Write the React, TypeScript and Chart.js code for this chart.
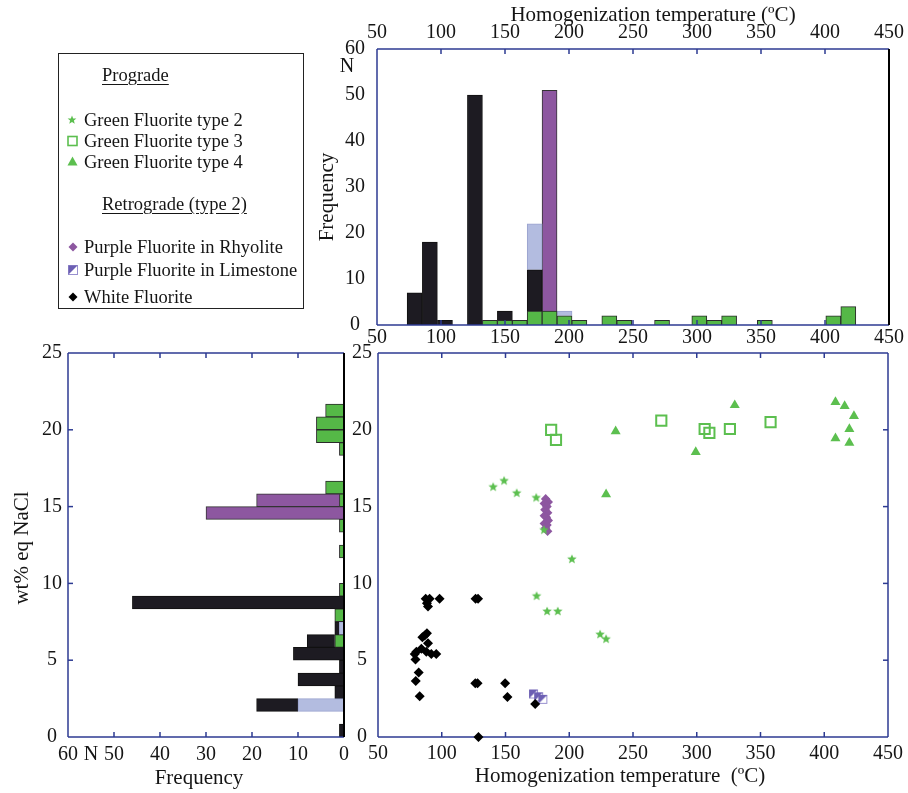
import React, { useEffect, useRef } from 'react';
import { Chart, registerables } from 'chart.js';
Chart.register(...registerables);

const FONT = "'Liberation Serif', 'Times New Roman', serif";

// ---------- Top histogram: homogenization temperature (bar centres, °C) ----------
const tempBins = [79.4, 91.3, 103.1, 126.5, 138.2, 149.9, 161.5, 173.2, 184.8, 196.5, 208.1, 231.5, 243.2, 272.7, 301.8, 313.4, 325.1, 353.0, 406.5, 418.2];
const tempGreen = [0, 0, 0, 0, 1, 1, 1, 3, 3, 2, 1, 2, 1, 1, 2, 1, 2, 1, 2, 4];
const tempWhite = [7, 18, 1, 50, 0, 2, 0, 9, 0, 0, 0, 0, 0, 0, 0, 0, 0, 0, 0, 0];
const tempLimestone = [0, 0, 0, 0, 0, 0, 0, 10, 0, 1, 0, 0, 0, 0, 0, 0, 0, 0, 0, 0];
const tempRhyolite = [0, 0, 0, 0, 0, 0, 0, 0, 48, 0, 0, 0, 0, 0, 0, 0, 0, 0, 0, 0];

// ---------- Left histogram: salinity (bin centres, wt% eq NaCl) ----------
const salBins = [0.42, 1.25, 2.08, 2.92, 3.75, 4.58, 5.42, 6.25, 7.08, 7.92, 8.75, 9.58, 10.42, 11.25, 12.08, 12.92, 13.75, 14.58, 15.42, 16.25, 17.08, 17.92, 18.75, 19.58, 20.42, 21.25];
const salGreen = [0, 0, 0, 0, 0, 0, 0, 2, 0, 2, 0, 1, 0, 0, 1, 0, 1, 0, 1, 4, 0, 0, 1, 6, 6, 4];
const salLimestone = [0, 0, 10, 0, 0, 0, 0, 0, 1, 0, 0, 0, 0, 0, 0, 0, 0, 0, 0, 0, 0, 0, 0, 0, 0, 0];
const salWhite = [1, 0, 9, 2, 10, 1, 11, 6, 1, 0, 46, 0, 0, 0, 0, 0, 0, 0, 0, 0, 0, 0, 0, 0, 0, 0];
const salRhyolite = [0, 0, 0, 0, 0, 0, 0, 0, 0, 0, 0, 0, 0, 0, 0, 0, 0, 30, 18, 0, 0, 0, 0, 0, 0, 0];

// ---------- Scatter: [temperature °C, salinity wt%] ----------
const greenType2 = [[140.3, 16.3], [148.9, 16.7], [158.8, 15.9], [174.1, 15.6], [180.1, 13.5], [202.1, 11.6], [174.4, 9.2], [182.6, 8.2], [191.0, 8.2], [224.2, 6.7], [228.9, 6.4]];
const greenType3 = [[185.8, 20.0], [189.6, 19.35], [272.2, 20.6], [306.2, 20.05], [309.9, 19.8], [326.0, 20.05], [357.9, 20.5]];
const greenType4 = [[236.4, 19.9], [228.9, 15.8], [329.8, 21.6], [299.2, 18.55], [408.8, 21.8], [416.0, 21.55], [423.3, 20.9], [419.7, 20.05], [408.8, 19.45], [419.7, 19.15]];
const purpleRhyolite = [[181.5, 15.5], [183.5, 15.3], [180.5, 15.2], [182.5, 15.0], [181.0, 14.8], [183.0, 14.6], [180.5, 14.4], [182.0, 14.3], [183.5, 14.1], [180.5, 13.9], [182.5, 13.8], [181.5, 13.6], [183.0, 13.4]];
const purpleLimestone = [[172.0, 2.8], [176.0, 2.62], [179.3, 2.45]];
const whiteFluorite = [[87.4, 9.0], [90.5, 9.0], [98.3, 9.0], [88.4, 8.7], [89.2, 8.5], [126.5, 9.0], [128.5, 9.0], [86.6, 6.6], [88.4, 6.75], [84.8, 6.5], [89.2, 6.1], [80.1, 5.55], [78.8, 5.4], [84.0, 5.75], [87.9, 5.55], [91.8, 5.4], [95.7, 5.4], [79.4, 5.05], [81.9, 4.2], [79.6, 3.65], [82.7, 2.65], [126.3, 3.5], [128.1, 3.5], [149.7, 3.5], [151.5, 2.6], [173.3, 2.15], [128.8, 0.0]];

const C = {
  axis: '#2d3a92',
  green: '#55b847',
  greenPt: '#5cbf4f',
  purple: '#8d57a0',
  light: '#b3bce0',
  black: '#1d1b22',
  lime: '#6c5fb3',
  text: '#151515',
};

const tickFont = { family: FONT, size: 20 };

function makeFrame(cfg: any) {
  const hook = cfg.before ? 'beforeDatasetsDraw' : 'afterDatasetsDraw';
  return {
    id: 'frame',
    [hook](chart: any) {
      const { ctx, chartArea: a } = chart;
      ctx.save();
      ctx.lineWidth = 1.5;
      const line = (x1: number, y1: number, x2: number, y2: number, c: string) => {
        ctx.strokeStyle = c;
        ctx.beginPath();
        ctx.moveTo(x1, y1);
        ctx.lineTo(x2, y2);
        ctx.stroke();
      };
      const L = 5;
      for (const t of cfg.ticks) {
        const sc = chart.scales[t.scale];
        for (const tk of sc.ticks) {
          if (tk.value <= sc.min || tk.value >= sc.max) continue;
          const p = sc.getPixelForValue(tk.value);
          if (t.edge === 'top') line(p, a.top, p, a.top + L, C.axis);
          if (t.edge === 'bottom') line(p, a.bottom, p, a.bottom - L, C.axis);
          if (t.edge === 'left') line(a.left, p, a.left + L, p, C.axis);
          if (t.edge === 'right') line(a.right, p, a.right - L, p, C.axis);
        }
      }
      line(a.left, a.top, a.right, a.top, cfg.top);
      line(a.left, a.bottom, a.right, a.bottom, cfg.bottom);
      line(a.left, a.top, a.left, a.bottom, cfg.left);
      ctx.lineWidth = cfg.rightWidth || 1.5;
      line(a.right, a.top, a.right, a.bottom, cfg.right);
      ctx.restore();
    },
  };
}

function makeTexts(items: any[]) {
  return {
    id: 'texts',
    afterDraw(chart: any) {
      const ctx = chart.ctx;
      for (const t of items) {
        ctx.save();
        ctx.font = `${t.size || 21}px ${FONT}`;
        ctx.fillStyle = C.text;
        ctx.textAlign = t.align || 'center';
        ctx.textBaseline = 'middle';
        ctx.translate(t.x, t.y);
        if (t.rot) ctx.rotate(t.rot);
        ctx.fillText(t.text, 0, 0);
        ctx.restore();
      }
    },
  };
}

function makeStarImg(color: string) {
  const c = document.createElement('canvas');
  c.width = 12;
  c.height = 12;
  const g = c.getContext('2d')!;
  g.fillStyle = color;
  g.beginPath();
  for (let i = 0; i < 10; i++) {
    const r = i % 2 ? 2.2 : 5.0;
    const a = -Math.PI / 2 + (i * Math.PI) / 5;
    const x = 6 + r * Math.cos(a);
    const y = 6.4 + r * Math.sin(a);
    if (i === 0) g.moveTo(x, y);
    else g.lineTo(x, y);
  }
  g.closePath();
  g.fill();
  return c;
}

function makeHalfSquareImg() {
  const c = document.createElement('canvas');
  c.width = 11;
  c.height = 11;
  const g = c.getContext('2d')!;
  g.fillStyle = '#fff';
  g.fillRect(1, 1, 9, 9);
  g.strokeStyle = '#9890cf';
  g.lineWidth = 1;
  g.strokeRect(1.5, 1.5, 8, 8);
  g.fillStyle = C.lime;
  g.beginPath();
  g.moveTo(1, 1);
  g.lineTo(10, 1);
  g.lineTo(1, 10);
  g.closePath();
  g.fill();
  return c;
}

function baseScale(extra: any) {
  return {
    type: 'linear',
    offset: false,
    grid: { display: false, drawTicks: false },
    border: { display: false },
    ...extra,
    ticks: { font: tickFont, color: C.text, autoSkip: false, maxRotation: 0, ...(extra.ticks || {}) },
  };
}

function barDs(label: string, xs: number[], ys: number[], bg: string, border: string, thickness: number, horizontal: boolean) {
  const data = xs
    .map((v, i) => (horizontal ? { x: ys[i], y: v } : { x: v, y: ys[i] }))
    .filter((p) => (horizontal ? p.x : p.y) > 0);
  return {
    label,
    data,
    backgroundColor: bg,
    borderColor: border,
    borderWidth: 1,
    barThickness: thickness,
    grouped: false,
  };
}

const toXY = (arr: number[][]) => arr.map(([x, y]) => ({ x, y }));

function Legend() {
  const star = (cx: number, cy: number) => {
    const pts: string[] = [];
    for (let i = 0; i < 10; i++) {
      const r = i % 2 ? 2.0 : 4.6;
      const a = -Math.PI / 2 + (i * Math.PI) / 5;
      pts.push(`${cx + r * Math.cos(a)},${cy + r * Math.sin(a)}`);
    }
    return pts.join(' ');
  };
  const rowText = (text: string, cy: number, left = 84, underline = false) => (
    <div
      style={{
        position: 'absolute',
        left,
        top: cy - 11,
        height: 22,
        lineHeight: '22px',
        fontSize: 18.5,
        whiteSpace: 'nowrap',
        textDecoration: underline ? 'underline' : 'none',
        textUnderlineOffset: 3,
        color: C.text,
      }}
    >
      {text}
    </div>
  );
  return (
    <>
      <div
        style={{
          position: 'absolute',
          left: 58,
          top: 53,
          width: 244,
          height: 254,
          border: '1.5px solid #222',
        }}
      />
      <svg style={{ position: 'absolute', left: 0, top: 0 }} width={320} height={320}>
        <polygon points={star(72, 120)} fill={C.greenPt} />
        <rect x={68} y={136.5} width={9} height={9} fill="none" stroke={C.greenPt} strokeWidth={1.6} />
        <polygon points="72.5,156.5 77.5,165.5 67.5,165.5" fill={C.greenPt} />
        <polygon points="73,242.5 77.5,247 73,251.5 68.5,247" fill={C.purple} />
        <rect x={68.5} y={265.5} width={9} height={9} fill="#fff" stroke="#9890cf" strokeWidth={1} />
        <polygon points="68.5,265.5 77.5,265.5 68.5,274.5" fill={C.lime} />
        <polygon points="73,292.5 77.5,297 73,301.5 68.5,297" fill="#000" />
      </svg>
      {rowText('Prograde', 75, 102, true)}
      {rowText('Green Fluorite type 2', 120)}
      {rowText('Green Fluorite type 3', 141)}
      {rowText('Green Fluorite type 4', 162)}
      {rowText('Retrograde (type 2)', 204, 102, true)}
      {rowText('Purple Fluorite in Rhyolite', 247)}
      {rowText('Purple Fluorite in Limestone', 270)}
      {rowText('White Fluorite', 297)}
    </>
  );
}

export default function App() {
  const topRef = useRef<HTMLCanvasElement>(null);
  const leftRef = useRef<HTMLCanvasElement>(null);
  const scRef = useRef<HTMLCanvasElement>(null);

  useEffect(() => {
    const charts: Chart[] = [];
    const common = {
      responsive: false,
      animation: false,
      devicePixelRatio: 1,
    };

    // ---- Top histogram ----
    charts.push(
      new Chart(topRef.current!, {
        type: 'bar',
        data: {
          datasets: [
            barDs('Green', tempBins, tempGreen, C.green, '#2a2a2a', 15, false),
            barDs('White', tempBins, tempWhite, C.black, '#111', 15, false),
            barDs('Limestone', tempBins, tempLimestone, C.light, '#9aa3cf', 15, false),
            barDs('Rhyolite', tempBins, tempRhyolite, C.purple, '#333', 15, false),
          ],
        },
        options: {
          ...common,
          layout: { padding: { top: 0, right: 18, bottom: 0, left: 0 } },
          plugins: { legend: { display: false }, tooltip: { enabled: false } },
          scales: {
            x: baseScale({ position: 'bottom', min: 50, max: 450, ticks: { stepSize: 50, padding: 1 }, afterFit: (s: any) => { s.height = 25; } }),
            x2: baseScale({ axis: 'x', position: 'top', min: 50, max: 450, ticks: { stepSize: 50, padding: 4 }, afterFit: (s: any) => { s.height = 49; } }),
            y: baseScale({ position: 'left', min: 0, max: 60, stacked: true, ticks: { stepSize: 10, padding: 12, crossAlign: 'center' }, afterFit: (s: any) => { s.width = 77; } }),
          },
        } as any,
        plugins: [
          makeFrame({ top: C.axis, bottom: C.axis, left: C.axis, right: '#000', rightWidth: 2, ticks: [{ scale: 'x', edge: 'bottom' }, { scale: 'x2', edge: 'top' }] }),
          makeTexts([
            { text: 'Homogenization temperature (ºC)', x: 353, y: 15 },
            { text: 'Frequency', x: 27, y: 197, rot: -Math.PI / 2 },
            { text: 'N', x: 47, y: 67, size: 20 },
          ]),
        ],
      } as any)
    );

    // ---- Left histogram (horizontal) ----
    charts.push(
      new Chart(leftRef.current!, {
        type: 'bar',
        data: {
          datasets: [
            barDs('Green', salBins, salGreen, C.green, '#2a2a2a', 12.8, true),
            barDs('Limestone', salBins, salLimestone, C.light, '#9aa3cf', 12.8, true),
            barDs('White', salBins, salWhite, C.black, '#111', 12.8, true),
            barDs('Rhyolite', salBins, salRhyolite, C.purple, '#333', 12.8, true),
          ],
        },
        options: {
          ...common,
          indexAxis: 'y',
          layout: { padding: { top: 23, right: 10, bottom: 0, left: 0 } },
          plugins: { legend: { display: false }, tooltip: { enabled: false } },
          scales: {
            x: baseScale({ position: 'bottom', min: 0, max: 60, reverse: true, stacked: true, ticks: { stepSize: 10, padding: 6 }, afterFit: (s: any) => { s.height = 56; } }),
            y: baseScale({ position: 'left', min: 0, max: 25, ticks: { stepSize: 5, padding: 6, crossAlign: 'center' }, afterFit: (s: any) => { s.width = 68; } }),
          },
        } as any,
        plugins: [
          makeFrame({ top: C.axis, bottom: C.axis, left: C.axis, right: '#000', rightWidth: 2, ticks: [{ scale: 'x', edge: 'bottom' }, { scale: 'x', edge: 'top' }, { scale: 'y', edge: 'left' }] }),
          makeTexts([
            { text: 'wt% eq NaCl', x: 22, y: 218, rot: -Math.PI / 2 },
            { text: 'Frequency', x: 199, y: 448 },
            { text: 'N', x: 91, y: 425, size: 20 },
          ]),
        ],
      } as any)
    );

    // ---- Scatter ----
    const starImg = makeStarImg(C.greenPt);
    const halfImg = makeHalfSquareImg();
    charts.push(
      new Chart(scRef.current!, {
        type: 'scatter',
        data: {
          datasets: [
            { label: 'Green Fluorite type 2', data: toXY(greenType2), pointStyle: starImg, radius: 5, clip: false },
            { label: 'Green Fluorite type 3', data: toXY(greenType3), pointStyle: 'rect', radius: 7.2, backgroundColor: 'rgba(0,0,0,0)', borderColor: C.greenPt, borderWidth: 2, clip: false },
            { label: 'Green Fluorite type 4', data: toXY(greenType4), pointStyle: 'triangle', radius: 5.8, backgroundColor: C.greenPt, borderWidth: 0, clip: false },
            { label: 'White Fluorite', data: toXY(whiteFluorite), pointStyle: 'rectRot', radius: 5, backgroundColor: '#000', borderWidth: 0, clip: false },
            { label: 'Purple Fluorite in Limestone', data: toXY(purpleLimestone), pointStyle: halfImg, radius: 5, clip: false },
            { label: 'Purple Fluorite in Rhyolite', data: toXY(purpleRhyolite), pointStyle: 'rectRot', radius: 4.8, backgroundColor: C.purple, borderWidth: 0, clip: false },
          ],
        },
        options: {
          ...common,
          layout: { padding: { top: 23, right: 18, bottom: 0, left: 0 } },
          plugins: { legend: { display: false }, tooltip: { enabled: false } },
          scales: {
            x: baseScale({ position: 'bottom', min: 50, max: 450, ticks: { stepSize: 50, padding: 5 }, afterFit: (s: any) => { s.height = 56; } }),
            y: baseScale({ position: 'left', min: 0, max: 25, ticks: { stepSize: 5, padding: 6, crossAlign: 'center' }, afterFit: (s: any) => { s.width = 48; } }),
          },
        } as any,
        plugins: [
          makeFrame({ before: true, top: C.axis, bottom: C.axis, left: C.axis, right: C.axis, ticks: [{ scale: 'x', edge: 'bottom' }, { scale: 'x', edge: 'top' }, { scale: 'y', edge: 'right' }] }),
          makeTexts([{ text: 'Homogenization temperature  (ºC)', x: 290, y: 446 }]),
        ],
      } as any)
    );

    return () => charts.forEach((c) => c.destroy());
  }, []);

  return (
    <div style={{ position: 'absolute', left: 0, top: 0, width: 908, height: 793, background: '#fff', fontFamily: FONT }}>
      <canvas ref={topRef} width={608} height={350} style={{ position: 'absolute', left: 300, top: 0 }} />
      <canvas ref={leftRef} width={355} height={463} style={{ position: 'absolute', left: 0, top: 330 }} />
      <canvas ref={scRef} width={578} height={463} style={{ position: 'absolute', left: 330, top: 330 }} />
      <Legend />
    </div>
  );
}
